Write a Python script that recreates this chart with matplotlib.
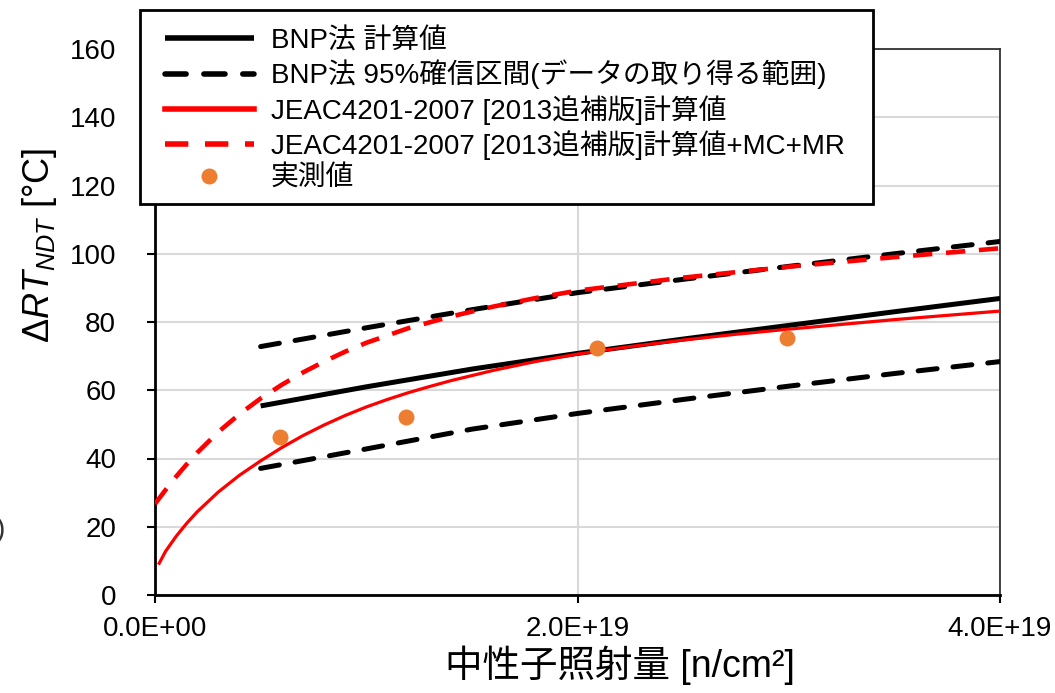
import matplotlib
matplotlib.use("Agg")
import matplotlib.pyplot as plt
from matplotlib.patches import Rectangle

plt.rcParams['font.family'] = ['Liberation Sans', 'Noto Sans CJK JP']
plt.rcParams['mathtext.fontset'] = 'custom'
plt.rcParams['mathtext.rm'] = 'Liberation Sans'
plt.rcParams['mathtext.it'] = 'Liberation Sans:italic'

# ---- data (fluence in units of 1e19 n/cm2) ----
bnp_x = [0.5, 1.0, 1.5, 2.0, 2.5, 3.0, 3.5, 4.0]
bnp_calc = [55.4, 61.0, 66.2, 70.8, 75.0, 79.0, 83.0, 86.9]
bnp_upper = [72.8, 78.3, 83.6, 88.6, 92.5, 96.3, 100.0, 103.6]
bnp_lower = [37.1, 42.8, 48.6, 53.2, 57.3, 61.2, 64.9, 68.4]

jeac_x = [0.02, 0.05, 0.1, 0.15, 0.2, 0.3, 0.4, 0.5, 0.6, 0.7, 0.8, 0.9, 1.0,
          1.1, 1.2, 1.3, 1.4, 1.6, 1.8, 2.0, 2.25, 2.5, 2.75, 3.0, 3.5, 4.0]
jeac_calc = [9.3, 12.8, 17.2, 21.0, 24.4, 30.2, 35.1, 39.3, 43.2, 46.7, 49.8,
             52.6, 55.1, 57.3, 59.3, 61.1, 62.8, 65.8, 68.4, 70.6, 72.8, 74.7,
             76.4, 77.9, 80.7, 83.2]

jeacm_x = [0.0, 0.05, 0.1, 0.15, 0.2, 0.3, 0.4, 0.5, 0.6, 0.7, 0.8, 0.9, 1.0,
           1.2, 1.4, 1.6, 1.8, 2.0, 2.5, 3.0, 3.5, 4.0]
jeac_mcmr = [26.7, 30.8, 34.7, 38.3, 41.7, 47.8, 53.0, 57.6, 61.6, 65.2, 68.4,
             71.3, 73.9, 78.2, 81.6, 84.5, 87.0, 89.2, 93.0, 96.2, 99.0, 101.6]

meas_x = [0.59, 1.19, 2.09, 2.99]
meas_y = [46.4, 52.3, 72.3, 75.2]

x_ticks = [0.0, 2.0, 4.0]
x_ticklabels = ['0.0E+00', '2.0E+19', '4.0E+19']
y_ticks = [0, 20, 40, 60, 80, 100, 120, 140, 160]

labels = ['BNP法 計算値',
          'BNP法 95%確信区間(データの取り得る範囲)',
          'JEAC4201-2007 [2013追補版]計算値',
          'JEAC4201-2007 [2013追補版]計算値+MC+MR',
          '実測値']

W, H = 1055, 693
fig = plt.figure(figsize=(W / 100, H / 100), dpi=100)
ax = fig.add_axes([155 / W, 98 / H, 845 / W, 546 / H])

l1, = ax.plot(bnp_x, bnp_calc, color='black', lw=3.6, solid_capstyle='butt', zorder=3)
l2, = ax.plot(bnp_x, bnp_upper, color='black', lw=3.6, dashes=(3.8, 3.2),
              dash_capstyle='round', zorder=3)
ax.plot(bnp_x, bnp_lower, color='black', lw=3.6, dashes=(3.8, 3.2),
        dash_capstyle='round', zorder=3)
l3, = ax.plot(jeac_x, jeac_calc, color='#FF0000', lw=2.3, zorder=4)
l4, = ax.plot(jeacm_x, jeac_mcmr, color='#FF0000', lw=3.3, dashes=(4.2, 3.0), zorder=4)
l5, = ax.plot(meas_x, meas_y, 'o', color='#ED7D31', ms=11.5, mew=0, zorder=5)

ax.set_xlim(0, 4.0)
ax.set_ylim(0, 160)
ax.set_xticks(x_ticks)
ax.set_xticklabels(x_ticklabels)
ax.set_yticks(y_ticks)
ax.tick_params(axis='both', direction='out', length=6, width=1.5, labelsize=20,
               color='black')
ax.tick_params(axis='y', pad=22)
ax.tick_params(axis='x', pad=9)

ax.set_axisbelow(True)
ax.grid(True, color='#D9D9D9', lw=1.5)

for s in ['left', 'bottom']:
    ax.spines[s].set_color('black')
    ax.spines[s].set_linewidth(2.0)
for s in ['top', 'right']:
    ax.spines[s].set_color('#333333')
    ax.spines[s].set_linewidth(1.3)

# legend frame drawn separately so its padding can match the reference
frame = Rectangle((140 / W, 1 - 204 / H), (873 - 140) / W, (204 - 10) / H,
                  transform=fig.transFigure, facecolor='white', edgecolor='black',
                  lw=2.0, zorder=9)
fig.add_artist(frame)

leg = fig.legend([l1, l2, l3, l4, l5], labels, loc='upper left',
                 bbox_to_anchor=(165 / W, 1 - 28 / H), bbox_transform=fig.transFigure,
                 fontsize=20, frameon=False,
                 handlelength=3.2, handletextpad=0.6, labelspacing=0.2,
                 borderpad=0, borderaxespad=0)
for ln in leg.get_lines():
    if ln.get_linestyle() != 'None':
        ln.set_linewidth(4.0)
leg.set_zorder(10)

fig.text(40 / W, 1 - 245 / H, r'$\mathit{ΔRT}_{\mathit{NDT}}$ [°C]', rotation=90,
         ha='center', va='center', fontsize=26)
fig.text(620 / W, 1 - 665 / H, '中性子照射量 [n/cm²]', ha='center', va='center',
         fontsize=27)
fig.text(-4 / W, 1 - 530 / H, ')', ha='left', va='center', fontsize=20, color='#333333')

fig.savefig('out.png', dpi=100)
